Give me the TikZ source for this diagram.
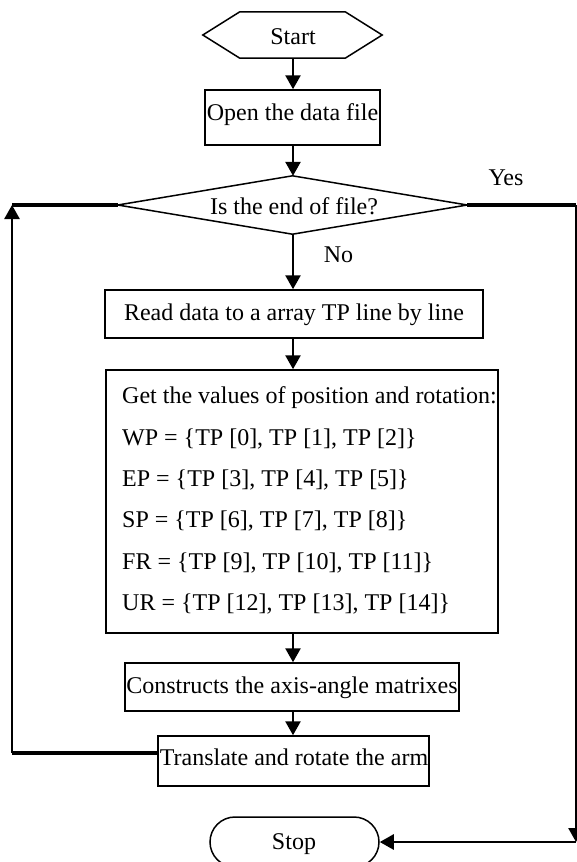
\documentclass[tikz,border=0pt]{standalone}
\usepackage{fontspec}
\setmainfont{Liberation Serif}
\usetikzlibrary{arrows.meta,shapes.misc}
\begin{document}
\begin{tikzpicture}[x=1pt,y=-1pt,
  font=\fontsize{24}{28}\selectfont,
  frame/.style={draw,line width=1.5pt,inner sep=0pt},
  shell/.style={inner sep=0pt},
  txt/.style={inner sep=0pt,anchor=base},
  ltxt/.style={inner sep=0pt,anchor=base west},
  arr/.style={line width=2.6pt,-{Triangle[length=14pt,width=15pt]}},
  bar/.style={line width=3.6pt}]
\useasboundingbox (0,0) rectangle (577,862);

% blocks
\node[shell,minimum width=179pt,minimum height=46pt] (start) at (292.5,35) {};
\draw[line width=1.5pt] (start.west) -- ([xshift=37pt]start.north west)
  -- ([xshift=-37pt]start.north east) -- (start.east)
  -- ([xshift=-37pt]start.south east) -- ([xshift=37pt]start.south west) -- cycle;
\node[frame,minimum width=175pt,minimum height=55pt] (open) at (292.5,117.5) {};
\node[shell,minimum width=349pt,minimum height=58pt] (dec) at (292.5,205) {};
\draw[line width=1.5pt] (dec.west) -- (dec.north) -- (dec.east) -- (dec.south) -- cycle;
\node[frame,minimum width=378pt,minimum height=48pt] (read) at (294,314) {};
\node[frame,minimum width=392pt,minimum height=263pt] (vals) at (302,501.5) {};
\node[frame,minimum width=334pt,minimum height=48pt] (cons) at (292,687) {};
\node[frame,minimum width=271pt,minimum height=50pt] (trans) at (293.5,761) {};
\node[draw,line width=1.5pt,rounded rectangle,inner sep=0pt,minimum width=169pt,minimum height=50pt] (stop) at (294.5,842) {};

% texts
\node[txt] (tstart) at (293,44) {Start};
\node[txt] (topen) at (292.5,120.5) {Open the data file};
\node[txt] (tdec) at (294,214.5) {Is the end of file?};
\node[txt] (tread) at (294,320.7) {Read data to a array TP line by line};
\node[ltxt] (v0) at (122,403) {Get the values of position and rotation:};
\node[ltxt] (v1) at (122,445.5) {WP = \{TP [0], TP [1], TP [2]\}};
\node[ltxt] (v2) at (122,486.5) {EP = \{TP [3], TP [4], TP [5]\}};
\node[ltxt] (v3) at (122,527.5) {SP = \{TP [6], TP [7], TP [8]\}};
\node[ltxt] (v4) at (122,569) {FR = \{TP [9], TP [10], TP [11]\}};
\node[ltxt] (v5) at (122,610) {UR = \{TP [12], TP [13], TP [14]\}};
\node[txt] (tcons) at (292,693) {Constructs the axis-angle matrixes};
\node[txt] (ttrans) at (294,765.7) {Translate and rotate the arm};
\node[txt] (tstop) at (294,849) {Stop};
\node[txt] (yes) at (506,185) {Yes};
\node[txt] (no) at (338.5,262) {No};

% main flow
\coordinate (axis) at (293,0);
\draw[arr] (start.south -| axis) -- (open.north -| axis);
\draw[arr] (open.south -| axis) -- (dec.north -| axis);
\draw[arr] (dec.south -| axis) -- (read.north -| axis);
\draw[arr] (read.south -| axis) -- (vals.north -| axis);
\draw[arr] (vals.south -| axis) -- (cons.north -| axis);
\draw[arr] (cons.south -| axis) -- (trans.north -| axis);

% loop back to the test
\coordinate (lb) at (12,753);
\coordinate (lt) at (12,205);
\draw[bar] ([yshift=8pt]trans.west) -- (lb);
\draw[arr] (lb) -- (lt);
\draw[bar] (lt) -- (dec.west);

% exit to stop
\coordinate (rt) at (576,205);
\coordinate (rb) at (576,842);
\draw[bar] (dec.east) -- (rt);
\draw[arr] (rt) -- (rb);
\draw[arr] (rb) -- (stop.east);
\end{tikzpicture}
\end{document}
